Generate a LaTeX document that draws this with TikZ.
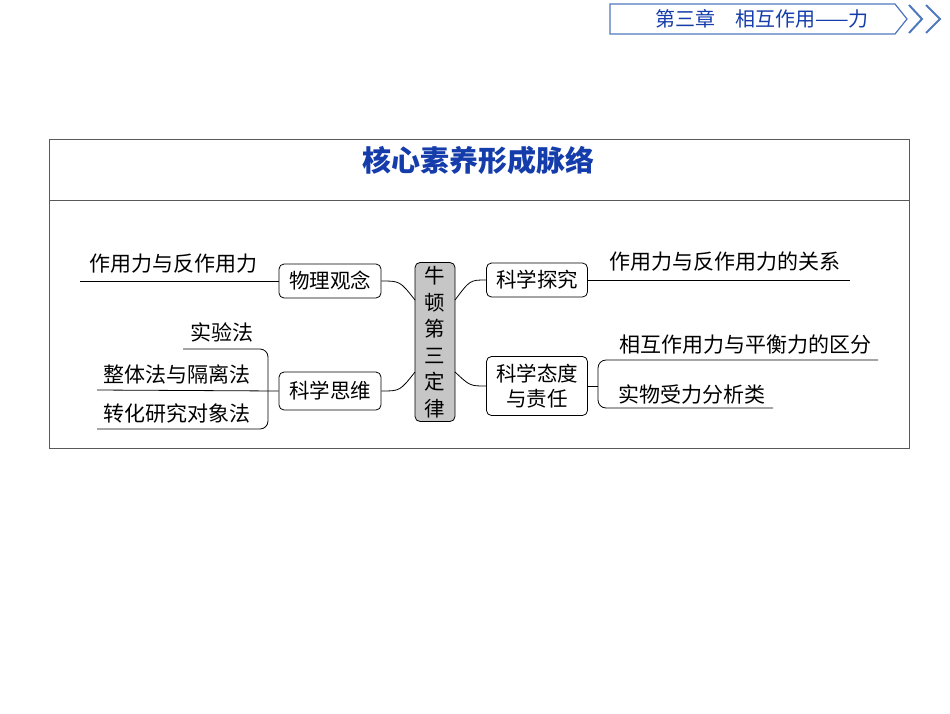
\documentclass[tikz,border=0pt]{standalone}
\usepackage{fontspec}
\setmainfont{Noto Sans CJK SC}
\definecolor{hblue}{RGB}{20,60,170}
\definecolor{hbox}{RGB}{80,120,190}
\begin{document}
\begin{tikzpicture}[x=1pt,y=-1pt,
  box/.style={draw,rounded corners=5pt,thick,font=\fontsize{20.5}{22}\selectfont,inner sep=0pt},
  lbl/.style={font=\fontsize{21}{22}\selectfont,inner sep=0pt},
  ln/.style={thick}]
\useasboundingbox (0,0) rectangle (950,713);
% header
\draw[hbox,line width=1.2pt] (610,4) -- (895,4) -- (907,19) -- (895,34) -- (610,34) -- cycle;
\draw[hbox,line width=2pt] (909,5) -- (922,19) -- (909,33);
\draw[hbox,line width=2pt] (926,5) -- (940,19) -- (926,33);
\node[text=hblue,font=\fontsize{20}{22}\selectfont] (hdr) at (762,19) {第三章\quad 相互作用——力};
% frame
\draw[gray!70!black] (49,139) rectangle (909,448);
\draw[gray!70!black] (49,200) -- (909,200);
\node[text=hblue,font=\fontsize{29}{30}\selectfont\bfseries] (title) at (478,160) {核心素养形成脉络};
% center
\node[box,fill=gray!45,minimum width=40pt,minimum height=159pt,align=center,font=\fontsize{20.5}{26.5}\selectfont] (c) at (435,342) {牛\\顿\\第\\三\\定\\律};
\node[box,minimum width=102pt,minimum height=34pt] (a) at (330,281) {物理观念};
\node[box,minimum width=102pt,minimum height=38pt] (b) at (330,391) {科学思维};
\node[box,minimum width=101pt,minimum height=34pt] (d) at (537,280) {科学探究};
\node[box,minimum width=101pt,minimum height=59pt,align=center,font=\fontsize{20.5}{25}\selectfont] (e) at (537,386) {科学态度\\与责任};
% curves
\draw[ln] (a.east) .. controls (400,281) .. (415,300);
\draw[ln] (b.east) .. controls (400,391) .. (415,372);
\draw[ln] (d.west) .. controls (470,280) .. (455,300);
\draw[ln] (e.west) .. controls (470,386) .. (455,372);
% left branches
\coordinate (a1) at (80,281);
\draw[ln] (a.west) -- (a1);
\node[lbl] (t1) at (173,264) {作用力与反作用力};
\coordinate (b1) at (183,349); \coordinate (b2) at (97,390); \coordinate (b3) at (97,429);
\draw[ln,rounded corners=8pt] (b1) -- (268,349) -- (268,429) -- (b3);
\draw[ln] (b.west) -- (b2);
\node[lbl] (t2) at (222,332) {实验法};
\node[lbl] (t3) at (177,374) {整体法与隔离法};
\node[lbl] (t4) at (177,413) {转化研究对象法};
% right branches
\coordinate (d1) at (850,280);
\draw[ln] (d.east) -- (d1);
\node[lbl] (t5) at (725,262) {作用力与反作用力的关系};
\coordinate (e1) at (878,360); \coordinate (e2) at (773,408);
\draw[ln] (e.east) -- (598,386);
\draw[ln,rounded corners=8pt] (e1) -- (598,360) -- (598,408) -- (e2);
\node[lbl] (t6) at (745,345) {相互作用力与平衡力的区分};
\node[lbl] (t7) at (692,394) {实物受力分析类};
\end{tikzpicture}
\end{document}
